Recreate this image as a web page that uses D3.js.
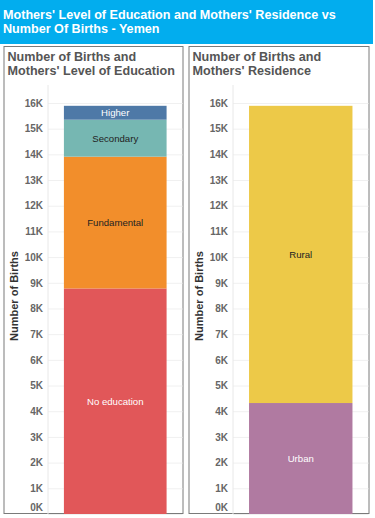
<!DOCTYPE html>
<html lang="en">
<head>
    <meta charset="UTF-8">
    <title>Mothers' Level of Education and Mothers' Residence vs Number Of Births - Yemen</title>
    <script src="https://cdn.jsdelivr.net/npm/d3@7"></script>
    <style>
        body { margin: 0; background: #fff; }
        svg { display: block; font-family: "Liberation Sans", Arial, sans-serif; }
        .tick text { font-size: 10px; font-weight: bold; fill: #666; }
    </style>
</head>
<body>
    <div id="chart-space"></div>

    <script>
        // values
        var eduCategories = ["No education", "Fundamental", "Secondary", "Higher"];
        var eduValues = [8780, 5130, 1440, 540];
        var eduColors = ["#e15759", "#f28e2b", "#76b7b2", "#4e79a7"];
        var eduLabelColors = ["#fff", "#222", "#222", "#fff"];

        var resCategories = ["Urban", "Rural"];
        var resValues = [4320, 11570];
        var resColors = ["#b07aa1", "#edc948"];
        var resLabelColors = ["#fff", "#222"];

        var yTicks = d3.range(0, 16001, 1000);
        var tickLabels = yTicks.map(function(d) { return d / 1000 + "K"; });

        var width = 375;
        var height = 518;

        var svg = d3.select("#chart-space")
            .append("svg")
            .attr("width", width)
            .attr("height", height);

        // header band
        svg.append("rect")
            .attr("x", 0).attr("y", 0)
            .attr("width", 373).attr("height", 44)
            .attr("fill", "#02adee");

        svg.append("text")
            .attr("x", 3).attr("y", 19)
            .attr("fill", "#fff")
            .style("font-size", "12.6px").style("font-weight", "bold")
            .text("Mothers' Level of Education and Mothers' Residence vs");
        svg.append("text")
            .attr("x", 3).attr("y", 33)
            .attr("fill", "#fff")
            .style("font-size", "12.6px").style("font-weight", "bold")
            .text("Number Of Births - Yemen");

        var y = d3.scaleLinear()
            .domain([0, 16700])
            .range([514, 85]);

        function drawPanel(opt) {
            var g = svg.append("g");

            g.append("rect")
                .attr("x", opt.left + 0.5).attr("y", 46.5)
                .attr("width", opt.panelWidth).attr("height", 467)
                .attr("fill", "#fff")
                .attr("stroke", "#7a7a7a");

            g.append("text")
                .attr("x", opt.left + 4).attr("y", 61)
                .attr("fill", "#555")
                .style("font-size", "12.6px").style("font-weight", "bold")
                .text(opt.title[0]);
            g.append("text")
                .attr("x", opt.left + 4).attr("y", 75)
                .attr("fill", "#555")
                .style("font-size", "12.6px").style("font-weight", "bold")
                .text(opt.title[1]);

            var x = d3.scaleBand()
                .domain(["all"])
                .range([opt.axisX, opt.left + opt.panelWidth])
                .paddingInner(0)
                .paddingOuter(0.155);

            // gridlines
            g.append("g")
                .attr("transform", "translate(" + opt.axisX + ",0)")
                .call(d3.axisLeft(y).tickValues(yTicks).tickSize(-(opt.left + opt.panelWidth - opt.axisX)).tickFormat(""))
                .call(function(s) {
                    s.select(".domain").remove();
                    s.selectAll("line").attr("stroke", "#f0f0f0");
                });

            // axis
            var axis = g.append("g")
                .attr("transform", "translate(" + opt.axisX + ",0)")
                .call(d3.axisLeft(y).tickValues(yTicks).tickSize(0).tickPadding(5)
                    .tickFormat(function(d, i) { return tickLabels[i]; }));
            axis.select(".domain").attr("stroke", "#e8e8e8").attr("d", "M0,85V514");
            axis.selectAll(".tick text").attr("dy", function(d) { return d === 0 ? "-0.35em" : "0.32em"; });

            g.append("text")
                .attr("transform", "translate(" + (opt.left + 14.5) + ",296) rotate(-90)")
                .attr("text-anchor", "middle")
                .attr("fill", "#333")
                .style("font-size", "11px").style("font-weight", "bold")
                .text("Number of Births");

            var ends = d3.cumsum(opt.values);
            var segs = opt.values.map(function(v, i) {
                return { cat: opt.categories[i], y0: ends[i] - v, y1: ends[i], i: i };
            });

            g.selectAll("rect.seg")
                .data(segs)
                .join("rect")
                .attr("class", "seg")
                .attr("x", x("all"))
                .attr("width", x.bandwidth())
                .attr("y", function(d) { return y(d.y1); })
                .attr("height", function(d) { return y(d.y0) - y(d.y1); })
                .attr("fill", function(d) { return opt.colors[d.i]; });

            g.selectAll("text.seg")
                .data(segs)
                .join("text")
                .attr("class", "seg")
                .attr("x", x("all") + x.bandwidth() / 2)
                .attr("y", function(d) { return (y(d.y0) + y(d.y1)) / 2; })
                .attr("dy", "0.35em")
                .attr("text-anchor", "middle")
                .attr("fill", function(d) { return opt.labelColors[d.i]; })
                .style("font-size", "9.6px")
                .text(function(d) { return d.cat; });
        }

        drawPanel({
            left: 3.5, panelWidth: 179, axisX: 48,
            title: ["Number of Births and", "Mothers' Level of Education"],
            categories: eduCategories, values: eduValues,
            colors: eduColors, labelColors: eduLabelColors
        });

        drawPanel({
            left: 188.5, panelWidth: 180, axisX: 233,
            title: ["Number of Births and", "Mothers' Residence"],
            categories: resCategories, values: resValues,
            colors: resColors, labelColors: resLabelColors
        });
    </script>
</body>
</html>
